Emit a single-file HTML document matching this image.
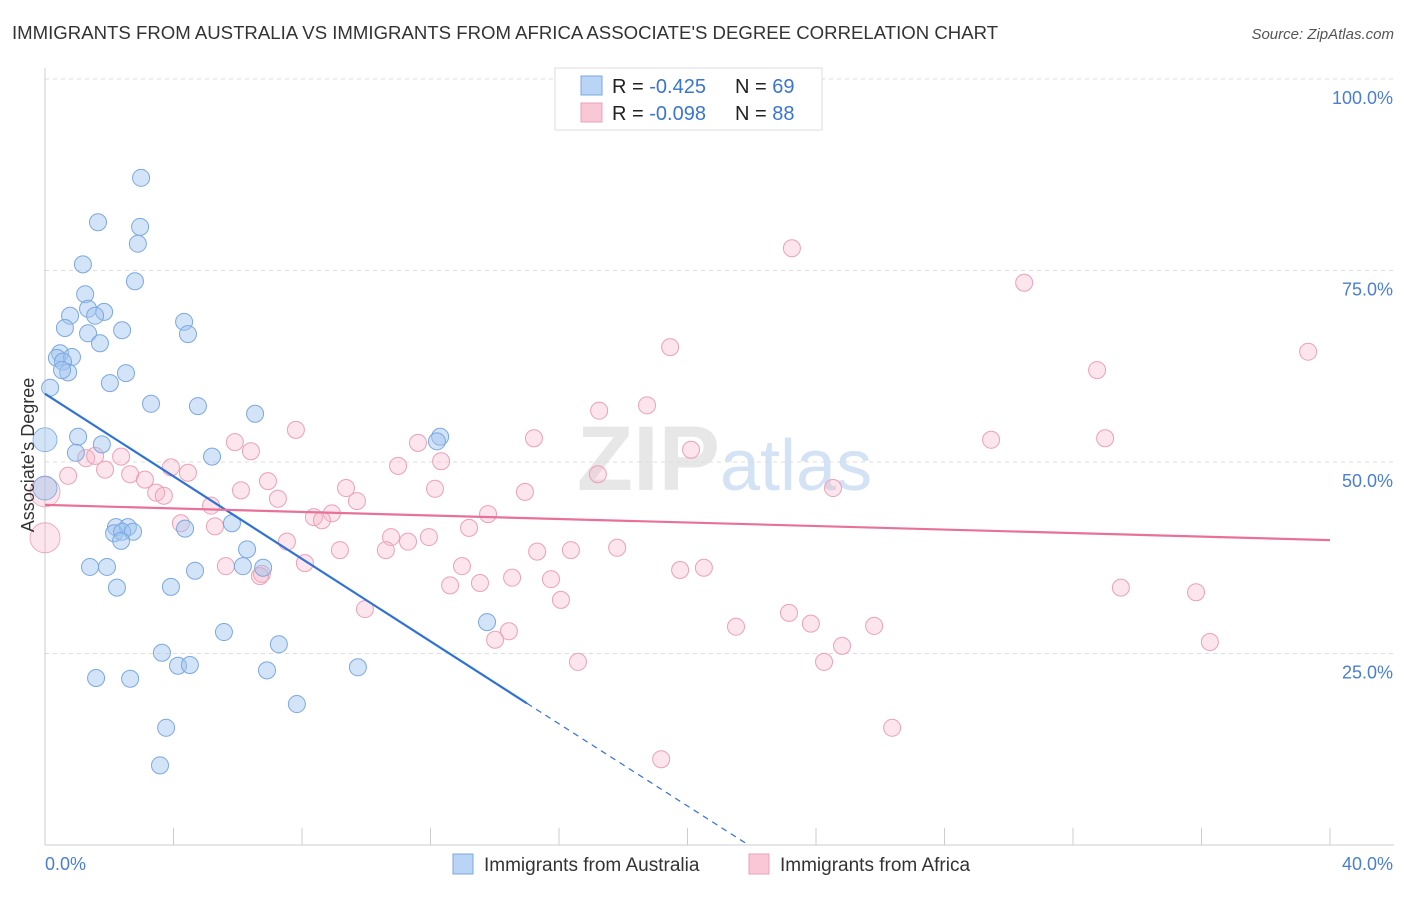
<!DOCTYPE html>
<html><head><meta charset="utf-8"><style>
body{margin:0;background:#fff;font-family:"Liberation Sans",sans-serif;}
svg text{font-family:"Liberation Sans",sans-serif;}
</style></head><body>
<svg id="chart" width="1406" height="892" xmlns="http://www.w3.org/2000/svg">
<text x="12" y="39" font-size="18.6" fill="#333">IMMIGRANTS FROM AUSTRALIA VS IMMIGRANTS FROM AFRICA ASSOCIATE'S DEGREE CORRELATION CHART</text>
<text x="1394" y="39" font-size="15" font-style="italic" fill="#555" text-anchor="end">Source: ZipAtlas.com</text>
<g id="grid"></g>
<text x="720" y="490" font-size="92" font-family="Liberation Serif" fill="#ddd" text-anchor="end" font-weight="bold" opacity="0.7">ZIP</text>
<text x="720" y="490" font-size="72" fill="#c9dcf2" opacity="0.8">atlas</text>
<g id="axes"></g>
<g id="pts"></g>
<g id="trends"></g>
<text transform="translate(34,455) rotate(-90)" font-size="18" fill="#333" text-anchor="middle">Associate's Degree</text>
<g>
<rect x="555" y="68" width="267" height="62" fill="#fff" stroke="#ddd"/>
<rect x="581" y="76" width="21" height="19" fill="#b9d4f5" stroke="#7aa8e0"/>
<rect x="581" y="103" width="21" height="19" fill="#f9c8d6" stroke="#eca0b8"/>
<text x="612" y="93" font-size="20" fill="#222">R = <tspan fill="#3a75d0">-0.425</tspan></text>
<text x="735" y="93" font-size="20" fill="#222">N = <tspan fill="#3a75d0">69</tspan></text>
<text x="612" y="120" font-size="20" fill="#222">R = <tspan fill="#3a75d0">-0.098</tspan></text>
<text x="735" y="120" font-size="20" fill="#222">N = <tspan fill="#3a75d0">88</tspan></text>
</g>
<g>
<rect x="453" y="854" width="20" height="20" fill="#b9d4f5" stroke="#7aa8e0"/>
<text x="484" y="871" font-size="19" fill="#333">Immigrants from Australia</text>
<rect x="749" y="854" width="20" height="20" fill="#f9c8d6" stroke="#eca0b8"/>
<text x="780" y="871" font-size="19" fill="#333">Immigrants from Africa</text>
</g>
</svg>
<script>
const blueX=[2.99,1.65,2.96,2.89,1.18,2.80,1.25,1.34,0.78,1.84,1.56,0.62,2.40,4.33,4.45,1.34,1.71,0.47,0.37,0.84,0.56,0.72,2.52,2.02,0.16,3.30,4.76,6.54,0,1.03,1.77,0.96,12.30,12.20,5.20,0,5.82,2.21,2.58,2.15,2.40,2.74,4.36,2.37,6.29,1.40,1.93,6.16,6.79,4.67,2.24,3.92,13.76,5.57,7.28,3.64,4.14,4.51,9.74,6.91,1.59,2.65,7.84,3.77,3.58,0.53];
const blueY=[87.1,81.3,80.7,78.5,75.8,73.6,71.9,70.0,69.1,69.6,69.1,67.5,67.2,68.3,66.7,66.8,65.5,64.2,63.6,63.7,63.1,61.7,61.6,60.3,59.7,57.6,57.3,56.3,52.9,53.3,52.3,51.2,53.3,52.7,50.7,46.6,42.0,41.5,41.5,40.7,40.9,40.9,41.3,39.7,38.6,36.3,36.3,36.4,36.2,35.8,33.6,33.7,29.1,27.8,26.2,25.1,23.4,23.5,23.2,22.8,21.8,21.7,18.4,15.3,10.4,62.0];
const pinkX=[23.25,30.48,19.46,39.32,32.75,17.25,18.74,7.81,15.22,29.45,33.00,5.91,6.41,11.61,20.11,1.28,1.56,2.37,12.33,10.99,0.72,1.87,2.65,3.11,3.92,4.45,6.94,17.21,6.10,12.14,14.94,24.53,3.46,3.70,7.25,9.37,9.71,5.17,8.37,8.93,13.79,4.23,8.62,5.29,13.20,0,0,7.53,10.77,11.30,11.95,9.18,10.61,8.09,6.75,12.98,5.63,15.32,16.37,17.81,13.54,14.54,15.75,12.61,19.77,20.51,16.06,9.96,23.16,23.84,21.51,25.81,14.44,14.01,24.81,24.25,16.59,33.49,35.83,36.26,26.37,19.18,6.69];
const pinkY=[77.9,73.4,65.0,64.4,62.0,56.7,57.4,54.2,53.1,52.9,53.1,52.6,51.4,52.5,51.6,50.5,50.8,50.7,50.1,49.5,48.2,49.0,48.4,47.7,49.3,48.6,47.5,48.4,46.3,46.5,46.1,46.6,46.0,45.6,45.2,46.6,44.9,44.3,42.8,43.3,43.2,42.0,42.4,41.6,41.4,46.1,40.1,39.6,40.2,39.6,40.2,38.5,38.5,36.8,35.4,36.4,36.4,38.3,38.5,38.8,34.2,34.9,34.7,33.9,35.9,36.2,32.0,30.8,30.3,28.9,28.5,28.6,27.9,26.8,26.0,23.9,23.9,33.6,33.0,26.5,15.3,11.2,35.1];
const blueTrendX=[0,15,21.9];
const blueTrendY=[58.9,18.5,0];
const pinkTrendX=[0,40];
const pinkTrendY=[44.4,39.8];
const yTicks=[25,50,75,100];
const yTickLabels=["25.0%","50.0%","75.0%","100.0%"];

const NS="http://www.w3.org/2000/svg";
const X0=45,X1=1330,Y0=845,Y1=79;
const sx=v=>X0+(X1-X0)*v/40;
const sy=v=>Y0-(Y0-Y1)*v/100;
function mk(tag,attrs,parent){const e=document.createElementNS(NS,tag);for(const k in attrs)e.setAttribute(k,attrs[k]);parent.appendChild(e);return e;}
const grid=document.getElementById('grid'),axes=document.getElementById('axes'),pts=document.getElementById('pts'),tr=document.getElementById('trends');
yTicks.forEach((t,i)=>{
 const l=mk('line',{x1:X0,x2:1394,y1:sy(t),y2:sy(t),stroke:'#ddd','stroke-dasharray':'4,4'},grid);
 
 
 const tx=mk('text',{x:1393,y:sy(t)+25,'font-size':18,fill:'#4a7fd0','text-anchor':'end'},axes);
 tx.textContent=yTickLabels[i];
 
 
});
const al=mk('line',{x1:X0,x2:X0,y1:68,y2:Y0,stroke:'#ccc'},axes);


const bl=mk('line',{x1:X0,x2:1394,y1:Y0,y2:Y0,stroke:'#ccc'},axes);


for(let i=0;i<=10;i++){
 const t=mk('line',{x1:sx(i*4),x2:sx(i*4),y1:828,y2:Y0,stroke:'#ccc'},axes);
 
 
}
const xl=mk('text',{x:45,y:870,'font-size':18,fill:'#4a7fd0'},axes);xl.textContent='0.0%';


const xr=mk('text',{x:1393,y:870,'font-size':18,fill:'#4a7fd0','text-anchor':'end'},axes);xr.textContent='40.0%';


function dots(xs,ys,fill,stroke,name){
 xs.forEach((v,i)=>{
  const r=v===0?(name==='africa'?15:12):8.5;
  const c=mk('circle',{cx:sx(v),cy:sy(ys[i]),r:r,fill:fill,stroke:stroke,'stroke-width':v===0?0.8:1},pts);
  
  
 });
}
dots(pinkX,pinkY,'rgba(246,180,200,0.35)','#eca0b8','africa');
dots(blueX,blueY,'rgba(160,196,240,0.45)','#7aa8e0','australia');
const b1=mk('line',{x1:sx(blueTrendX[0]),y1:sy(blueTrendY[0]),x2:sx(blueTrendX[1]),y2:sy(blueTrendY[1]),stroke:'#2f72d6','stroke-width':2.2},tr);


const b2=mk('line',{x1:sx(blueTrendX[1]),y1:sy(blueTrendY[1]),x2:sx(blueTrendX[2]),y2:sy(blueTrendY[2]),stroke:'#2f72d6','stroke-width':1.2,'stroke-dasharray':'6,5'},tr);


const p1=mk('line',{x1:sx(pinkTrendX[0]),y1:sy(pinkTrendY[0]),x2:sx(pinkTrendX[1]),y2:sy(pinkTrendY[1]),stroke:'#e8719a','stroke-width':2.2},tr);


</script>
</body></html>
